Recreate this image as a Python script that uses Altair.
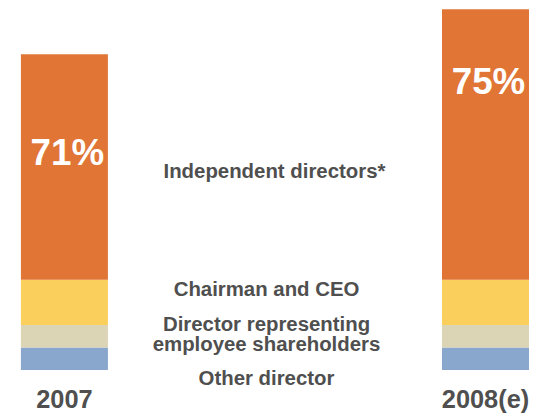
import altair as alt
import pandas as pd

years = ["2007", "2008(e)"]
categories = ["Other director", "Director representing\nemployee shareholders",
              "Chairman and CEO", "Independent directors*"]
other = [1, 1]
employee = [1, 1]
chairman = [2, 2]
independent = [10, 12]
pct_labels = ["71%", "75%"]

colors = ["#89A6CC", "#DBD4B5", "#FBCF5B", "#E07535"]
TXT = "#4F4F4F"
FONT = "Liberation Sans"

series = [other, employee, chairman, independent]
rows = []
for yi, y in enumerate(years):
    for ci, c in enumerate(categories):
        rows.append({"year": y, "category": c, "value": series[ci][yi], "order": ci})
df = pd.DataFrame(rows)

# label positions: midpoint of each segment in the first bar
cum = 0
mids = []
for s in series:
    mids.append(cum + s[0] / 2)
    cum += s[0]

tops = [sum(s[i] for s in series) for i in range(len(years))]
pct_df = pd.DataFrame({"year": years, "top": tops, "label": pct_labels})
year_df = pd.DataFrame({"year": years, "zero": [0, 0]})

xscale = alt.Scale(domain=years, range=[13, 524], paddingInner=0.7934, paddingOuter=0)
yscale = alt.Scale(domain=[0, 16], nice=False)

base = alt.Chart(df)
bars = base.mark_bar().encode(
    x=alt.X("year:N", scale=xscale, axis=None, sort=years),
    y=alt.Y("value:Q", stack="zero", scale=yscale, axis=None),
    color=alt.Color("category:N", scale=alt.Scale(domain=categories, range=colors), legend=None),
    order=alt.Order("order:Q"),
)

layers = [bars]

# percent labels inside bars
pct_dy = [111, 85]
for i in range(len(years)):
    layers.append(
        alt.Chart(pct_df.iloc[[i]]).mark_text(
            font=FONT, fontWeight="bold", fontSize=37, color="white",
            baseline="alphabetic", align="center", dx=3, dy=pct_dy[i]
        ).encode(
            x=alt.X("year:N", scale=xscale, sort=years),
            y=alt.Y("top:Q", scale=yscale),
            text="label:N",
        )
    )

# category labels between the bars
label_dy = [26, -5, -6, 11]
label_dx = [0, 0, 0, 8]
for ci, c in enumerate(categories):
    ldf = pd.DataFrame({"label": [c], "pos": [mids[ci]]})
    layers.append(
        alt.Chart(ldf).mark_text(
            font=FONT, fontWeight="bold", fontSize=20.5, color=TXT,
            baseline="alphabetic", align="center", lineBreak="\n",
            lineHeight=20, dy=label_dy[ci], dx=label_dx[ci]
        ).encode(
            x=alt.value(260),
            y=alt.Y("pos:Q", scale=yscale),
            text="label:N",
        )
    )

# year labels
layers.append(
    alt.Chart(year_df).mark_text(
        font=FONT, fontWeight="bold", fontSize=25.5, color=TXT,
        baseline="alphabetic", align="center", dy=38
    ).encode(
        x=alt.X("year:N", scale=xscale, sort=years),
        y=alt.Y("zero:Q", scale=yscale),
        text="year:N",
    )
)

chart = alt.layer(*layers).properties(
    width=524, height=363,
    autosize=alt.AutoSizeParams(type="none"),
    padding={"left": 0, "top": 0, "right": 0, "bottom": 42},
).configure(background="white").configure_view(stroke=None, strokeWidth=0)

chart.save("out.html", embed_options={"renderer": "svg", "actions": False})
